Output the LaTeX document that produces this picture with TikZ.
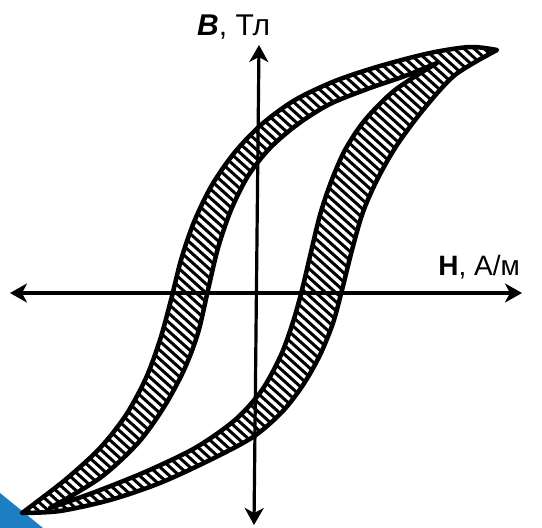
\documentclass[tikz,border=0pt]{standalone}
\usepackage{fontspec}
\setmainfont{Liberation Sans}
\usetikzlibrary{arrows.meta}
\definecolor{SlideBlue}{HTML}{1C7FC4}

\begin{document}
\begin{tikzpicture}[x=1pt,y=-1pt,
  axis/.style={line width=3.2pt,
    {Stealth[length=17pt,width=19pt,inset=5pt]}-{Stealth[length=17pt,width=19pt,inset=5pt]}},
  band/.style={line width=4.5pt,line join=round},
  hatchline/.style={line width=3pt},
  axlabel/.style={font=\fontsize{30}{36}\selectfont,inner sep=0pt}
]
\useasboundingbox (0,0) rectangle (542,528);
\fill[SlideBlue] (0,493) -- (43,528) -- (0,528) -- cycle;
% outer and inner boundary of the loop
\def\outerloop{plot[smooth] coordinates {(497,50) (470,47) (430,53) (380,66)
    (335,81) (295,100) (262,124) (235,152) (212,185) (194,222) (181,260)
    (171,300) (160,340) (146,378) (126,415) (100,448) (65,480) (22,513)}
  -- plot[smooth] coordinates {(22,513) (60,511) (110,500) (160,483) (210,460)
    (253,437) (282,412) (303,385) (320,355) (333,323) (342,290) (352,250)
    (363,212) (378,178) (397,145) (423,110) (455,75) (497,50)}
  -- cycle}
\def\innerloop{plot[smooth] coordinates {(437,63) (405,76) (370,88) (330,104)
    (298,124) (270,148) (248,176) (231,210) (218,248) (208,290) (198,333)
    (184,370) (164,407) (138,443) (100,478) (50,508)}
  -- plot[smooth] coordinates {(50,508) (95,492) (145,472) (195,448) (235,420)
    (262,390) (281,355) (293,322) (302,290) (311,252) (320,215) (331,182)
    (345,150) (365,120) (395,90) (437,63)}
  -- cycle}
% hatching between the two boundaries
\begin{scope}
  \clip \outerloop;
  \foreach \k in {-60,...,55}
    \draw[hatchline] (\k*10,0) -- ++(590,530);
\end{scope}
\fill[white] \innerloop;
\draw[band] \outerloop;
\draw[band] \innerloop;
% axes
\coordinate (hleft) at (10,293);
\coordinate (hright) at (522,293);
\coordinate (vtop) at (259,45);
\coordinate (vbottom) at (254,525);
\draw[axis] (hleft) -- (hright);
\draw[axis] (vbottom) -- (vtop);
\node[axlabel,anchor=base west] (blabel) at (197,35) {\textbf{\textit{B}}, Тл};
\node[axlabel,font=\fontsize{28}{34}\selectfont,anchor=base east] (hlabel)
  at (520,275) {\textbf{H}, А/м};
\end{tikzpicture}
\end{document}
